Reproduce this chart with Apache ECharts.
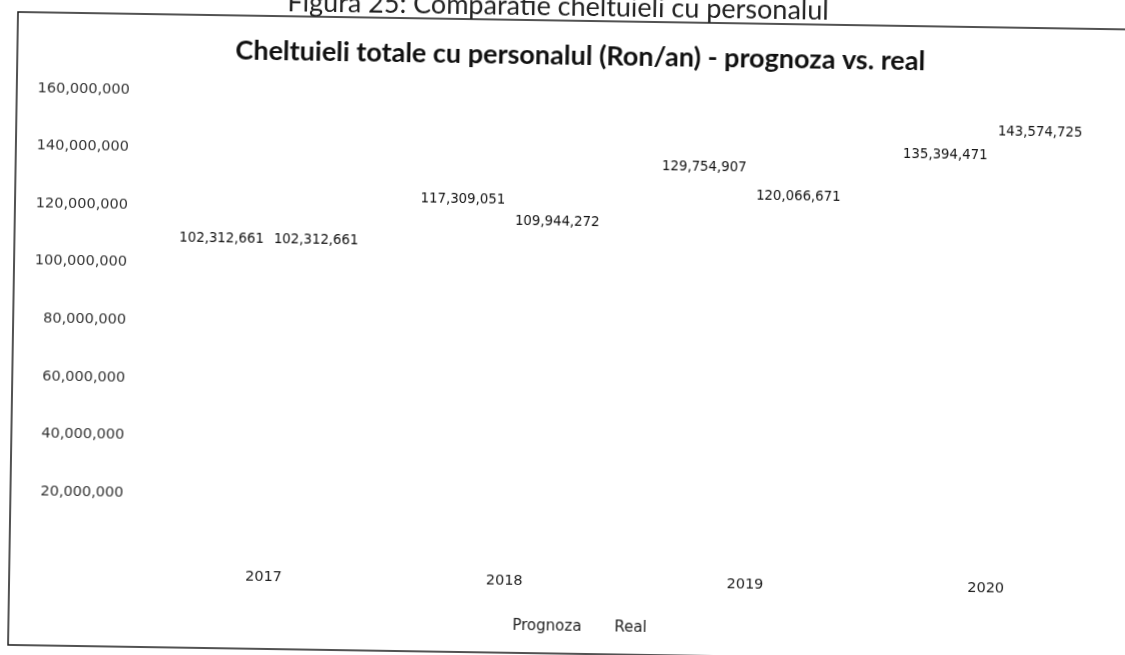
<!DOCTYPE html>
<html>
<head>
<meta charset="utf-8">
<script src="https://cdn.jsdelivr.net/npm/echarts@6/dist/echarts.min.js"></script>
<style>
  html, body { margin: 0; padding: 0; background: #ffffff; overflow: hidden; }
  #wrap { position: absolute; left: 0; top: 0; width: 1125px; height: 655px; overflow: hidden; background: #fff; }
  /* the sheet sits slightly skewed on the page */
  #chart { position: absolute; left: 0; top: -40px; width: 1180px; height: 720px;
           transform: rotate(0.9deg); transform-origin: 18px 52px; }
</style>
</head>
<body>
<div id="wrap"><div id="chart"></div></div>
<script>
// Yearly personnel costs (RON/year): forecast vs. actual
const years = ['2017', '2018', '2019', '2020'];
const prognoza = [102312661, 117309051, 129754907, 135394471];
const real = [102312661, 109944272, 120066671, 143574725];
const seriesNames = ['Prognoza', 'Real'];
const captionText = 'Figura 25: Comparatie cheltuieli cu personalul';
const titleText = 'Cheltuieli totale cu personalul (Ron/an) - prognoza vs. real';

const fmt = v => Number(v).toLocaleString('en-US');
const labelFont = 'DejaVu Sans';

const chart = echarts.init(document.getElementById('chart'), null, { renderer: 'canvas' });

const barLabel = {
  show: true,
  position: 'top',
  distance: 12,
  color: '#111',
  fontFamily: labelFont,
  fontSize: 13.3,
  formatter: p => fmt(p.value)
};

chart.setOption({
  animation: false,
  backgroundColor: 'transparent',
  graphic: [
    {
      type: 'rect',
      shape: { x: 18, y: 52, width: 1160, height: 633 },
      style: { fill: 'none', stroke: '#1a1a1a', lineWidth: 1.5 },
      silent: true
    },
    {
      type: 'text',
      x: 558, y: 52,
      style: {
        text: captionText,
        fontFamily: 'Lato', fontSize: 27,
        fill: '#222', textAlign: 'center', textVerticalAlign: 'bottom'
      },
      silent: true
    },
    {
      type: 'text',
      x: 581, y: 87,
      style: {
        text: titleText,
        fontFamily: 'Lato', fontWeight: 'bold', fontSize: 27,
        fill: '#111', textAlign: 'center', textVerticalAlign: 'middle'
      },
      silent: true
    }
  ],
  legend: {
    data: seriesNames,
    left: 504, top: 646,
    itemWidth: 8, itemHeight: 8, itemGap: 20,
    icon: 'rect',
    textStyle: { fontFamily: labelFont, fontSize: 15, color: '#222' }
  },
  grid: { left: 152, right: 65, top: 128, bottom: 131.4, containLabel: false },
  xAxis: {
    type: 'category',
    data: years,
    axisLine: { show: false },
    axisTick: { show: false },
    axisLabel: { margin: 17, fontFamily: labelFont, fontSize: 14.5, color: '#222' }
  },
  yAxis: {
    type: 'value',
    min: 0, max: 160000000, interval: 20000000,
    axisLine: { show: false },
    axisTick: { show: false },
    splitLine: { show: false },
    axisLabel: {
      showMinLabel: false,
      margin: 21,
      fontFamily: labelFont, fontSize: 14.5, color: '#333',
      formatter: v => fmt(v)
    }
  },
  series: [
    {
      name: seriesNames[0], type: 'bar', data: prognoza,
      barWidth: 86, barGap: '10%',
      itemStyle: { color: '#ffffff' },
      label: barLabel
    },
    {
      name: seriesNames[1], type: 'bar', data: real,
      barWidth: 86,
      itemStyle: { color: '#ffffff' },
      label: barLabel
    }
  ]
});
</script>
</body>
</html>
